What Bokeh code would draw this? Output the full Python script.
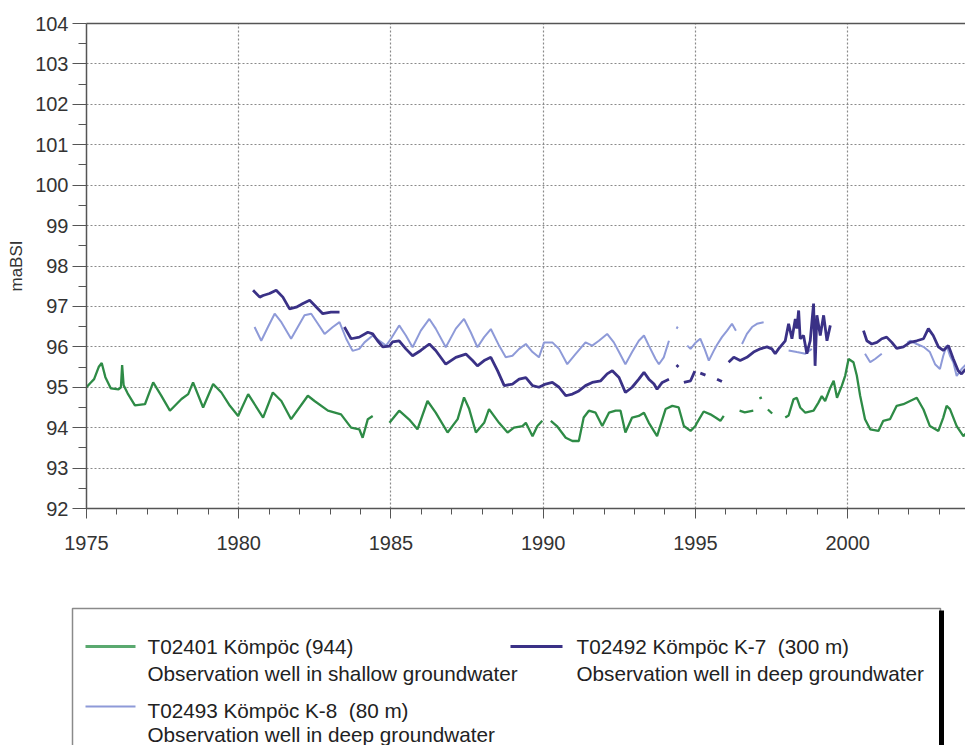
import math
from bokeh.plotting import figure
from bokeh.layouts import column
from bokeh.models import FixedTicker, Range1d, LinearAxis
from bokeh.embed import file_html
from bokeh.resources import INLINE
from bokeh.core.properties import value

# ---------------- data (year, level in maBSI) ----------------
green_segments = [
    [(1975.00, 95.00), (1975.12, 95.10), (1975.25, 95.20), (1975.40, 95.50), (1975.50, 95.60),
     (1975.62, 95.25), (1975.80, 94.97), (1976.05, 94.95), (1976.13, 95.00), (1976.17, 95.55),
     (1976.22, 95.05), (1976.35, 94.85), (1976.59, 94.55), (1976.92, 94.58), (1977.19, 95.12),
     (1977.45, 94.80), (1977.74, 94.42), (1978.12, 94.71), (1978.34, 94.83), (1978.50, 95.12),
     (1978.83, 94.50), (1979.16, 95.08), (1979.43, 94.87), (1979.71, 94.54), (1979.98, 94.29),
     (1980.31, 94.83), (1980.80, 94.25), (1981.12, 94.87), (1981.40, 94.66), (1981.72, 94.21),
     (1982.27, 94.79), (1982.49, 94.66), (1982.93, 94.42), (1983.36, 94.33), (1983.69, 94.00),
     (1983.96, 93.96), (1984.07, 93.75), (1984.24, 94.21), (1984.40, 94.29)],
    [(1984.95, 94.12), (1985.27, 94.42), (1985.60, 94.20), (1985.87, 93.96), (1986.20, 94.66),
     (1986.47, 94.37), (1986.86, 93.88), (1987.19, 94.21), (1987.40, 94.75), (1987.57, 94.46),
     (1987.79, 93.88), (1988.06, 94.12), (1988.22, 94.46), (1988.55, 94.12), (1988.83, 93.88),
     (1989.04, 94.00), (1989.32, 94.04), (1989.43, 94.12), (1989.65, 93.79), (1989.81, 94.04),
     (1989.97, 94.17)],
    [(1990.25, 94.17), (1990.45, 94.04), (1990.74, 93.75), (1990.96, 93.67), (1991.17, 93.67),
     (1991.33, 94.25), (1991.50, 94.42), (1991.72, 94.37), (1991.94, 94.04), (1992.16, 94.37),
     (1992.38, 94.42), (1992.54, 94.42), (1992.70, 93.88), (1992.92, 94.25), (1993.14, 94.29),
     (1993.31, 94.37), (1993.47, 94.12), (1993.74, 93.79), (1994.02, 94.46), (1994.24, 94.54),
     (1994.45, 94.50), (1994.62, 94.04), (1994.84, 93.92), (1995.00, 94.04), (1995.05, 94.12),
     (1995.27, 94.40), (1995.49, 94.33), (1995.66, 94.25), (1995.82, 94.17), (1995.93, 94.29)],
    [(1996.45, 94.42), (1996.62, 94.38), (1996.90, 94.42)],
    [(1997.10, 94.72), (1997.18, 94.75)],
    [(1997.38, 94.45), (1997.52, 94.35)],
    [(1997.95, 94.25), (1998.06, 94.30), (1998.22, 94.70), (1998.33, 94.74), (1998.44, 94.50),
     (1998.61, 94.37), (1998.88, 94.42), (1999.04, 94.62), (1999.15, 94.78), (1999.26, 94.66),
     (1999.43, 94.99), (1999.54, 95.16), (1999.65, 94.74), (1999.81, 95.04), (1999.92, 95.29),
     (2000.03, 95.70), (2000.19, 95.62), (2000.30, 95.29), (2000.41, 94.79), (2000.57, 94.21),
     (2000.74, 93.96), (2001.01, 93.92), (2001.17, 94.17), (2001.39, 94.21), (2001.61, 94.54),
     (2001.83, 94.58), (2002.05, 94.66), (2002.27, 94.74), (2002.49, 94.45), (2002.70, 94.04),
     (2002.98, 93.92), (2003.14, 94.25), (2003.25, 94.54), (2003.36, 94.46), (2003.58, 94.04),
     (2003.80, 93.79), (2003.87, 93.85)],
]

k7_segments = [
    [(1980.47, 97.40), (1980.69, 97.23), (1980.80, 97.27), (1981.01, 97.32), (1981.23, 97.40),
     (1981.45, 97.23), (1981.67, 96.94), (1981.89, 96.98), (1982.11, 97.07), (1982.33, 97.15),
     (1982.49, 97.03), (1982.76, 96.82), (1983.03, 96.86), (1983.31, 96.86)],
    [(1983.47, 96.49), (1983.69, 96.20), (1983.96, 96.24), (1984.24, 96.36), (1984.40, 96.32),
     (1984.56, 96.15), (1984.73, 96.00), (1984.95, 96.02), (1985.05, 96.12), (1985.27, 96.15),
     (1985.49, 95.95), (1985.71, 95.78), (1985.98, 95.91), (1986.26, 96.07), (1986.47, 95.91),
     (1986.80, 95.57), (1987.13, 95.74), (1987.46, 95.82), (1987.68, 95.66), (1987.84, 95.53),
     (1988.06, 95.66), (1988.28, 95.74), (1988.50, 95.41), (1988.72, 95.04), (1988.99, 95.08),
     (1989.21, 95.20), (1989.43, 95.24), (1989.65, 95.04), (1989.86, 95.00), (1990.08, 95.08),
     (1990.30, 95.12), (1990.52, 95.00), (1990.74, 94.79), (1990.96, 94.83), (1991.17, 94.91),
     (1991.39, 95.04), (1991.61, 95.12), (1991.89, 95.16), (1992.10, 95.33), (1992.27, 95.41),
     (1992.49, 95.24), (1992.70, 94.87), (1992.92, 95.00), (1993.14, 95.20), (1993.31, 95.37),
     (1993.47, 95.20), (1993.64, 95.08), (1993.74, 94.95), (1993.91, 95.12), (1994.13, 95.20)],
    [(1994.38, 95.50), (1994.44, 95.55)],
    [(1994.62, 95.12), (1994.84, 95.16), (1994.98, 95.40)],
    [(1995.16, 95.35), (1995.33, 95.30)],
    [(1995.71, 95.20), (1995.87, 95.14)],
    [(1996.09, 95.62), (1996.26, 95.74), (1996.47, 95.66), (1996.69, 95.74), (1996.91, 95.87),
     (1997.13, 95.95), (1997.35, 96.00), (1997.51, 95.95), (1997.62, 95.83), (1997.73, 95.95),
     (1997.95, 96.15), (1998.06, 96.57), (1998.17, 96.20), (1998.28, 96.69), (1998.33, 96.45),
     (1998.39, 96.90), (1998.44, 96.20), (1998.55, 96.28), (1998.66, 95.83), (1998.77, 96.15),
     (1998.88, 97.07), (1998.93, 95.53), (1998.99, 96.78), (1999.10, 96.28), (1999.21, 96.78),
     (1999.32, 96.15), (1999.43, 96.53)],
    [(2000.52, 96.40), (2000.63, 96.15), (2000.79, 96.07), (2000.96, 96.11), (2001.12, 96.20),
     (2001.28, 96.24), (2001.45, 96.11), (2001.61, 95.96), (2001.83, 96.00), (2002.05, 96.11),
     (2002.27, 96.15), (2002.49, 96.20), (2002.65, 96.45), (2002.81, 96.28), (2002.98, 96.00),
     (2003.14, 95.91), (2003.31, 96.03), (2003.47, 95.70), (2003.63, 95.41), (2003.74, 95.33),
     (2003.87, 95.45)],
]

k8_segments = [
    [(1980.52, 96.49), (1980.74, 96.15), (1980.96, 96.49), (1981.18, 96.82), (1981.40, 96.61),
     (1981.72, 96.20), (1981.94, 96.49), (1982.16, 96.78), (1982.38, 96.82), (1982.60, 96.57),
     (1982.82, 96.32), (1983.09, 96.49), (1983.31, 96.61), (1983.53, 96.20), (1983.74, 95.90),
     (1983.96, 95.95), (1984.13, 96.11), (1984.40, 96.28), (1984.62, 96.15), (1984.84, 96.03),
     (1985.00, 96.20), (1985.27, 96.53), (1985.49, 96.28), (1985.71, 95.99), (1985.98, 96.40),
     (1986.26, 96.69), (1986.47, 96.45), (1986.80, 95.99), (1987.13, 96.45), (1987.40, 96.69),
     (1987.62, 96.36), (1987.84, 95.99), (1988.06, 96.24), (1988.28, 96.44), (1988.55, 96.03),
     (1988.77, 95.74), (1988.99, 95.78), (1989.21, 95.95), (1989.43, 96.07), (1989.65, 95.87),
     (1989.86, 95.74), (1990.03, 96.11), (1990.30, 96.11), (1990.52, 95.95), (1990.79, 95.57),
     (1991.06, 95.82), (1991.39, 96.11), (1991.61, 96.03), (1991.83, 96.15), (1992.10, 96.32),
     (1992.32, 96.11), (1992.49, 95.87), (1992.70, 95.57), (1992.92, 95.87), (1993.14, 96.15),
     (1993.31, 96.28), (1993.47, 96.03), (1993.69, 95.70), (1993.80, 95.57), (1993.96, 95.74),
     (1994.13, 96.15)],
    [(1994.38, 96.45), (1994.42, 96.50)],
    [(1994.73, 96.03), (1994.84, 95.95), (1995.00, 96.10), (1995.16, 96.20), (1995.30, 95.95),
     (1995.44, 95.66), (1995.60, 95.90), (1995.71, 96.05), (1995.87, 96.24), (1996.04, 96.40),
     (1996.20, 96.57), (1996.33, 96.40)],
    [(1996.53, 96.07), (1996.69, 96.32), (1996.86, 96.49), (1997.02, 96.57), (1997.24, 96.61)],
    [(1998.06, 95.91), (1998.33, 95.87), (1998.61, 95.83), (1998.82, 95.95)],
    [(2000.57, 95.83), (2000.74, 95.62), (2000.90, 95.70), (2001.12, 95.83)],
    [(2001.95, 96.10), (2002.05, 96.15), (2002.27, 96.07), (2002.49, 96.00), (2002.70, 95.87),
     (2002.87, 95.57), (2003.03, 95.45), (2003.14, 95.78), (2003.25, 96.03), (2003.36, 95.78),
     (2003.47, 95.62), (2003.58, 95.28), (2003.74, 95.45), (2003.87, 95.55)],
]

year_ticks = [1975, 1980, 1985, 1990, 1995, 2000]
year_minor = list(range(1975, 2004))
level_ticks = list(range(92, 105))
level_minor = [92.5 + i for i in range(12)]

legend_titles = ["T02401 Kömpöc (944)", "T02493 Kömpöc K-8 \u00a0(80 m)", "T02492 Kömpöc K-7 \u00a0(300 m)"]
legend_notes = ["Observation well in shallow groundwater", "Observation well in deep groundwater",
                "Observation well in deep groundwater"]

GREEN = "#2e8b46"
DARK = "#3a3186"
LIGHT = "#8e9ad8"
FONT = "Liberation Sans"


def flatten(segs):
    xs, ys = [], []
    for i, s in enumerate(segs):
        if i > 0:
            xs.append(math.nan)
            ys.append(math.nan)
        for x, y in s:
            xs.append(x)
            ys.append(y)
    return xs, ys


# ---------------- main chart ----------------
p = figure(width=965, height=560, x_range=Range1d(1975, 2003.87), y_range=Range1d(92, 104),
           output_backend="svg", toolbar_location=None,
           min_border_left=86, min_border_right=0, min_border_top=23, min_border_bottom=52)
p.outline_line_color = None
p.background_fill_color = "white"
p.border_fill_color = "white"

for ax in (p.xaxis[0], p.yaxis[0]):
    ax.axis_line_color = "#555555"
    ax.axis_line_width = 1.5
    ax.major_tick_line_color = "#555555"
    ax.minor_tick_line_color = "#555555"
    ax.major_tick_in = 0
    ax.minor_tick_in = 0
    ax.major_label_text_font = FONT
    ax.major_label_text_font_size = "20px"
    ax.major_label_text_color = "#333333"

p.xaxis.ticker = FixedTicker(ticks=year_ticks, minor_ticks=year_minor)
p.xaxis.major_tick_out = 10
p.xaxis.minor_tick_out = 6
p.xaxis.major_label_standoff = 17

p.yaxis.ticker = FixedTicker(ticks=level_ticks, minor_ticks=level_minor)
p.yaxis.major_tick_out = 14
p.yaxis.minor_tick_out = 8
p.yaxis.major_label_standoff = 4
p.yaxis.axis_label = "maBSI"
p.yaxis.axis_label_text_font = FONT
p.yaxis.axis_label_text_font_style = "normal"
p.yaxis.axis_label_text_font_size = "17px"
p.yaxis.axis_label_text_color = "#333333"
p.yaxis.axis_label_standoff = 6

top = LinearAxis(ticker=FixedTicker(ticks=[]), major_label_text_font_size="0px",
                 major_tick_line_color=None, minor_tick_line_color=None,
                 axis_line_color="#555555", axis_line_width=1.5, major_label_standoff=0)
p.add_layout(top, "above")

p.xgrid.ticker = FixedTicker(ticks=year_ticks[1:])
p.ygrid.ticker = FixedTicker(ticks=level_ticks[1:-1])
for g in (p.xgrid[0], p.ygrid[0]):
    g.grid_line_color = "#8a8a8a"
    g.grid_line_dash = "2 2"
    g.grid_line_width = 1.2

gx, gy = flatten(green_segments)
k8x, k8y = flatten(k8_segments)
k7x, k7y = flatten(k7_segments)
p.line(gx, gy, line_color=GREEN, line_width=2.3)
p.line(k8x, k8y, line_color=LIGHT, line_width=2.0)
p.line(k7x, k7y, line_color=DARK, line_width=2.8)

# ---------------- legend panel (screen-pixel coordinates) ----------------
# the column aligns this panel's frame with the chart frame (starting at x=86);
# the legend renderers use the "annotation" level so they are not clipped to it
lg = figure(width=965, height=185, x_range=Range1d(86, 965), y_range=Range1d(185, 0),
            output_backend="svg", toolbar_location=None,
            min_border_left=86, min_border_right=0, min_border_top=0, min_border_bottom=0)
lg.axis.visible = False
lg.grid.visible = False
lg.outline_line_color = None

lg.quad(left=[72], right=[940], top=[48], bottom=[200], fill_color="white",
        line_color="#8a8a8a", line_width=1.5, level="annotation")
lg.segment(x0=[941], y0=[50], x1=[941], y1=[200], line_color="black", line_width=5,
           level="annotation")

lg.segment(x0=[85, 85, 510], y0=[86, 146, 86], x1=[135, 135, 562], y1=[86, 146, 86],
           line_color=["#5aa96f", LIGHT, DARK], line_width=[3, 2, 3], level="annotation")

lg.text(x=[147, 147, 576], y=[86, 150, 86], text=legend_titles,
        text_font=value(FONT), text_font_size="20.7px", text_baseline="middle", text_color="#222222",
        level="annotation")
lg.text(x=[147, 147, 576], y=[113, 174, 113], text=legend_notes,
        text_font=value(FONT), text_font_size="20.7px", text_baseline="middle", text_color="#222222",
        level="annotation")

layout = column(p, lg, spacing=0)
open("out.html", "w").write(file_html(layout, INLINE))
